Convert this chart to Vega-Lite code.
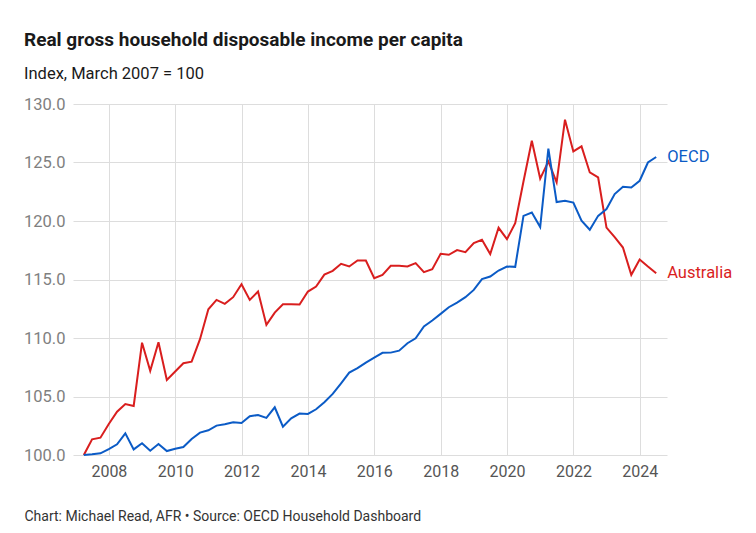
{
  "$schema": "https://vega.github.io/schema/vega-lite/v6.json",
  "autosize": "none",
  "width": 594,
  "height": 351,
  "padding": {"left": 73, "top": 104, "right": 89, "bottom": 78},
  "background": "white",
  "title": {
    "text": "Real gross household disposable income per capita",
    "subtitle": "Index, March 2007 = 100",
    "anchor": "start",
    "frame": "group",
    "dx": -49,
    "offset": 14,
    "font": "Roboto",
    "fontSize": 19,
    "fontWeight": "bold",
    "color": "#1a1a1a",
    "subtitleFont": "Roboto",
    "subtitleFontSize": 16.5,
    "subtitleColor": "#1a1a1a",
    "subtitlePadding": 16
  },
  "config": {
    "view": {"stroke": null},
    "axis": {"gridColor": "#dddddd", "gridWidth": 1, "domain": false, "ticks": false, "labelFont": "Roboto"}
  },
  "data": {"values": [
    {"date": "2007-03-31", "series": "Australia", "value": 100.0},
    {"date": "2007-06-30", "series": "Australia", "value": 101.34},
    {"date": "2007-09-30", "series": "Australia", "value": 101.48},
    {"date": "2007-12-31", "series": "Australia", "value": 102.65},
    {"date": "2008-03-31", "series": "Australia", "value": 103.7},
    {"date": "2008-06-30", "series": "Australia", "value": 104.36},
    {"date": "2008-09-30", "series": "Australia", "value": 104.19},
    {"date": "2008-12-31", "series": "Australia", "value": 109.6},
    {"date": "2009-03-31", "series": "Australia", "value": 107.19},
    {"date": "2009-06-30", "series": "Australia", "value": 109.64},
    {"date": "2009-09-30", "series": "Australia", "value": 106.42},
    {"date": "2009-12-31", "series": "Australia", "value": 107.13},
    {"date": "2010-03-31", "series": "Australia", "value": 107.84},
    {"date": "2010-06-30", "series": "Australia", "value": 107.98},
    {"date": "2010-09-30", "series": "Australia", "value": 109.9},
    {"date": "2010-12-31", "series": "Australia", "value": 112.46},
    {"date": "2011-03-31", "series": "Australia", "value": 113.26},
    {"date": "2011-06-30", "series": "Australia", "value": 112.92},
    {"date": "2011-09-30", "series": "Australia", "value": 113.49},
    {"date": "2011-12-31", "series": "Australia", "value": 114.6},
    {"date": "2012-03-31", "series": "Australia", "value": 113.26},
    {"date": "2012-06-30", "series": "Australia", "value": 113.97},
    {"date": "2012-09-30", "series": "Australia", "value": 111.12},
    {"date": "2012-12-31", "series": "Australia", "value": 112.17},
    {"date": "2013-03-31", "series": "Australia", "value": 112.89},
    {"date": "2013-06-30", "series": "Australia", "value": 112.89},
    {"date": "2013-09-30", "series": "Australia", "value": 112.86},
    {"date": "2013-12-31", "series": "Australia", "value": 113.97},
    {"date": "2014-03-31", "series": "Australia", "value": 114.4},
    {"date": "2014-06-30", "series": "Australia", "value": 115.42},
    {"date": "2014-09-30", "series": "Australia", "value": 115.74},
    {"date": "2014-12-31", "series": "Australia", "value": 116.34},
    {"date": "2015-03-31", "series": "Australia", "value": 116.11},
    {"date": "2015-06-30", "series": "Australia", "value": 116.62},
    {"date": "2015-09-30", "series": "Australia", "value": 116.62},
    {"date": "2015-12-31", "series": "Australia", "value": 115.11},
    {"date": "2016-03-31", "series": "Australia", "value": 115.4},
    {"date": "2016-06-30", "series": "Australia", "value": 116.17},
    {"date": "2016-09-30", "series": "Australia", "value": 116.17},
    {"date": "2016-12-31", "series": "Australia", "value": 116.11},
    {"date": "2017-03-31", "series": "Australia", "value": 116.4},
    {"date": "2017-06-30", "series": "Australia", "value": 115.63},
    {"date": "2017-09-30", "series": "Australia", "value": 115.88},
    {"date": "2017-12-31", "series": "Australia", "value": 117.19},
    {"date": "2018-03-31", "series": "Australia", "value": 117.11},
    {"date": "2018-06-30", "series": "Australia", "value": 117.51},
    {"date": "2018-09-30", "series": "Australia", "value": 117.34},
    {"date": "2018-12-31", "series": "Australia", "value": 118.11},
    {"date": "2019-03-31", "series": "Australia", "value": 118.39},
    {"date": "2019-06-30", "series": "Australia", "value": 117.17},
    {"date": "2019-09-30", "series": "Australia", "value": 119.42},
    {"date": "2019-12-31", "series": "Australia", "value": 118.45},
    {"date": "2020-03-31", "series": "Australia", "value": 119.82},
    {"date": "2020-06-30", "series": "Australia", "value": 123.38},
    {"date": "2020-09-30", "series": "Australia", "value": 126.86},
    {"date": "2020-12-31", "series": "Australia", "value": 123.61},
    {"date": "2021-03-31", "series": "Australia", "value": 125.09},
    {"date": "2021-06-30", "series": "Australia", "value": 123.3},
    {"date": "2021-09-30", "series": "Australia", "value": 128.66},
    {"date": "2021-12-31", "series": "Australia", "value": 125.95},
    {"date": "2022-03-31", "series": "Australia", "value": 126.38},
    {"date": "2022-06-30", "series": "Australia", "value": 124.15},
    {"date": "2022-09-30", "series": "Australia", "value": 123.72},
    {"date": "2022-12-31", "series": "Australia", "value": 119.44},
    {"date": "2023-03-31", "series": "Australia", "value": 118.62},
    {"date": "2023-06-30", "series": "Australia", "value": 117.73},
    {"date": "2023-09-30", "series": "Australia", "value": 115.4},
    {"date": "2023-12-31", "series": "Australia", "value": 116.71},
    {"date": "2024-03-31", "series": "Australia", "value": 116.11},
    {"date": "2024-06-30", "series": "Australia", "value": 115.54},
    {"date": "2007-03-31", "series": "OECD", "value": 100.0},
    {"date": "2007-06-30", "series": "OECD", "value": 100.06},
    {"date": "2007-09-30", "series": "OECD", "value": 100.14},
    {"date": "2007-12-31", "series": "OECD", "value": 100.51},
    {"date": "2008-03-31", "series": "OECD", "value": 100.91},
    {"date": "2008-06-30", "series": "OECD", "value": 101.85},
    {"date": "2008-09-30", "series": "OECD", "value": 100.48},
    {"date": "2008-12-31", "series": "OECD", "value": 101.0},
    {"date": "2009-03-31", "series": "OECD", "value": 100.37},
    {"date": "2009-06-30", "series": "OECD", "value": 100.94},
    {"date": "2009-09-30", "series": "OECD", "value": 100.34},
    {"date": "2009-12-31", "series": "OECD", "value": 100.54},
    {"date": "2010-03-31", "series": "OECD", "value": 100.68},
    {"date": "2010-06-30", "series": "OECD", "value": 101.37},
    {"date": "2010-09-30", "series": "OECD", "value": 101.91},
    {"date": "2010-12-31", "series": "OECD", "value": 102.11},
    {"date": "2011-03-31", "series": "OECD", "value": 102.51},
    {"date": "2011-06-30", "series": "OECD", "value": 102.62},
    {"date": "2011-09-30", "series": "OECD", "value": 102.79},
    {"date": "2011-12-31", "series": "OECD", "value": 102.74},
    {"date": "2012-03-31", "series": "OECD", "value": 103.31},
    {"date": "2012-06-30", "series": "OECD", "value": 103.42},
    {"date": "2012-09-30", "series": "OECD", "value": 103.17},
    {"date": "2012-12-31", "series": "OECD", "value": 104.08},
    {"date": "2013-03-31", "series": "OECD", "value": 102.42},
    {"date": "2013-06-30", "series": "OECD", "value": 103.14},
    {"date": "2013-09-30", "series": "OECD", "value": 103.54},
    {"date": "2013-12-31", "series": "OECD", "value": 103.51},
    {"date": "2014-03-31", "series": "OECD", "value": 103.91},
    {"date": "2014-06-30", "series": "OECD", "value": 104.51},
    {"date": "2014-09-30", "series": "OECD", "value": 105.22},
    {"date": "2014-12-31", "series": "OECD", "value": 106.13},
    {"date": "2015-03-31", "series": "OECD", "value": 107.04},
    {"date": "2015-06-30", "series": "OECD", "value": 107.42},
    {"date": "2015-09-30", "series": "OECD", "value": 107.9},
    {"date": "2015-12-31", "series": "OECD", "value": 108.33},
    {"date": "2016-03-31", "series": "OECD", "value": 108.73},
    {"date": "2016-06-30", "series": "OECD", "value": 108.75},
    {"date": "2016-09-30", "series": "OECD", "value": 108.92},
    {"date": "2016-12-31", "series": "OECD", "value": 109.55},
    {"date": "2017-03-31", "series": "OECD", "value": 109.98},
    {"date": "2017-06-30", "series": "OECD", "value": 110.98},
    {"date": "2017-09-30", "series": "OECD", "value": 111.49},
    {"date": "2017-12-31", "series": "OECD", "value": 112.06},
    {"date": "2018-03-31", "series": "OECD", "value": 112.63},
    {"date": "2018-06-30", "series": "OECD", "value": 113.03},
    {"date": "2018-09-30", "series": "OECD", "value": 113.49},
    {"date": "2018-12-31", "series": "OECD", "value": 114.11},
    {"date": "2019-03-31", "series": "OECD", "value": 115.03},
    {"date": "2019-06-30", "series": "OECD", "value": 115.25},
    {"date": "2019-09-30", "series": "OECD", "value": 115.77},
    {"date": "2019-12-31", "series": "OECD", "value": 116.11},
    {"date": "2020-03-31", "series": "OECD", "value": 116.08},
    {"date": "2020-06-30", "series": "OECD", "value": 120.44},
    {"date": "2020-09-30", "series": "OECD", "value": 120.73},
    {"date": "2020-12-31", "series": "OECD", "value": 119.48},
    {"date": "2021-03-31", "series": "OECD", "value": 126.18},
    {"date": "2021-06-30", "series": "OECD", "value": 121.62},
    {"date": "2021-09-30", "series": "OECD", "value": 121.73},
    {"date": "2021-12-31", "series": "OECD", "value": 121.58},
    {"date": "2022-03-31", "series": "OECD", "value": 120.02},
    {"date": "2022-06-30", "series": "OECD", "value": 119.25},
    {"date": "2022-09-30", "series": "OECD", "value": 120.44},
    {"date": "2022-12-31", "series": "OECD", "value": 121.02},
    {"date": "2023-03-31", "series": "OECD", "value": 122.3},
    {"date": "2023-06-30", "series": "OECD", "value": 122.93},
    {"date": "2023-09-30", "series": "OECD", "value": 122.87},
    {"date": "2023-12-31", "series": "OECD", "value": 123.44},
    {"date": "2024-03-31", "series": "OECD", "value": 125.0},
    {"date": "2024-06-30", "series": "OECD", "value": 125.47}
  ]},
  "encoding": {
    "x": {
      "field": "date",
      "type": "temporal",
      "scale": {"type": "utc", "domain": ["2006-12-02", "2024-10-27"]},
      "axis": {
        "values": [
          {"year": 2008, "utc": true}, {"year": 2010, "utc": true}, {"year": 2012, "utc": true},
          {"year": 2014, "utc": true}, {"year": 2016, "utc": true}, {"year": 2018, "utc": true},
          {"year": 2020, "utc": true}, {"year": 2022, "utc": true}, {"year": 2024, "utc": true}
        ],
        "format": "%Y",
        "labelFontSize": 16,
        "labelColor": "#555555",
        "labelPadding": 8,
        "labelFlush": false,
        "title": "Chart: Michael Read, AFR • Source: OECD Household Dashboard",
        "titleFont": "Roboto",
        "titleFontSize": 14,
        "titleFontWeight": "normal",
        "titleColor": "#333333",
        "titleAnchor": "start",
        "titleAlign": "left",
        "titleBaseline": "alphabetic",
        "titleX": -49,
        "titleY": 65
      }
    },
    "y": {
      "field": "value",
      "type": "quantitative",
      "scale": {"domain": [100, 130], "nice": false, "zero": false},
      "axis": {
        "values": [100, 105, 110, 115, 120, 125, 130],
        "format": ".1f",
        "labelFontSize": 16.5,
        "labelColor": "#808080",
        "labelPadding": 8,
        "title": null
      }
    },
    "color": {
      "field": "series",
      "type": "nominal",
      "scale": {"domain": ["Australia", "OECD"], "range": ["#d91e1e", "#0b5bc6"]},
      "legend": null
    }
  },
  "layer": [
    {"mark": {"type": "line", "strokeWidth": 2}},
    {
      "transform": [{"filter": "utcyear(datum.date) === 2024 && utcmonth(datum.date) === 5"}],
      "mark": {"type": "text", "align": "left", "baseline": "middle", "dx": 11, "font": "Roboto", "fontSize": 16.5},
      "encoding": {"text": {"field": "series"}}
    }
  ]
}
